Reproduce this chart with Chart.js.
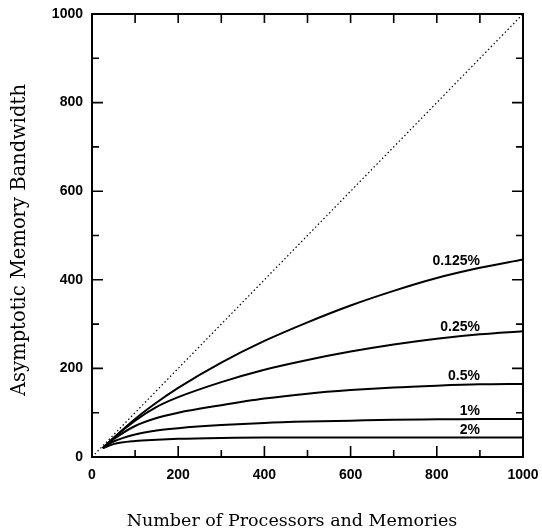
<!DOCTYPE html>
<html>
<head>
<meta charset="utf-8">
<script src="https://cdn.jsdelivr.net/npm/chart.js@4/dist/chart.umd.min.js"></script>
<style>
  html, body { margin: 0; padding: 0; background: #fff; }
  #caja { width: 542px; height: 529px; }
</style>
</head>
<body>
<div id="caja"><canvas id="grafica" width="542" height="529"></canvas></div>
<script>
// numero de procesadores y memorias
const N = [25, 50, 100, 150, 200, 300, 400, 500, 600, 700, 800, 900, 1000];

// ancho de banda asintotico, una serie por probabilidad
const B_0125 = [20, 43, 86, 123, 156, 213, 262, 304, 342, 375, 404, 427, 446];
const B_025 = [20, 43, 82, 113, 135, 169, 197, 219, 238, 254, 267, 277, 284];
const B_05 = [20, 40, 70, 88, 100, 117, 132, 143, 151, 157, 161, 164, 165];
const B_1 = [20, 35, 51, 60, 65, 72, 77, 80, 82, 84, 85, 86, 86];
const B_2 = [20, 29, 36, 39, 41, 43, 44, 44, 44, 44, 44, 44, 44];

const SERIES = [B_0125, B_025, B_05, B_1, B_2];
const NOMBRES = ['0.125%', '0.25%', '0.5%', '1%', '2%'];

// donde va cada etiqueta (en unidades de los ejes)
const ETIQ_X = 900;
const ETIQ_Y = [443, 293, 182, 104, 61];

const TICKS = [0, 200, 400, 600, 800, 1000];

const TITULO_X = 'Number of Processors and Memories';
const TITULO_Y = 'Asymptotic Memory Bandwidth';

const ctx = document.getElementById('grafica').getContext('2d');

function puntos(serie) {
    return N.map((n, i) => ({ x: n, y: serie[i] }));
}

const datasets = SERIES.map((s, i) => ({
    label: NOMBRES[i],
    data: puntos(s),
    borderColor: '#000',
    borderWidth: 2,
    pointRadius: 0,
    cubicInterpolationMode: 'monotone',
    fill: false
}));

// diagonal punteada (ancho de banda = N)
datasets.push({
    label: 'ideal',
    data: [{ x: 0, y: 0 }, { x: 1000, y: 1000 }],
    borderColor: '#000',
    borderWidth: 1.2,
    borderDash: [1.5, 2.5],
    pointRadius: 0,
    fill: false
});

// marco, marcas hacia adentro, etiquetas de las curvas y titulos
const marco = {
    id: 'marco',
    afterDatasetsDraw(chart) {
        const c = chart.ctx;
        const a = chart.chartArea;
        const sx = chart.scales.x;
        const sy = chart.scales.y;
        c.save();
        c.strokeStyle = '#000';
        c.lineWidth = 2;
        c.strokeRect(a.left, a.top, a.right - a.left, a.bottom - a.top);
        c.lineWidth = 1.6;
        c.beginPath();
        for (let v = 100; v < 1000; v += 100) {
            const largo = v % 200 === 0 ? 11 : 7;
            const px = sx.getPixelForValue(v);
            const py = sy.getPixelForValue(v);
            c.moveTo(px, a.bottom); c.lineTo(px, a.bottom - largo);
            c.moveTo(px, a.top); c.lineTo(px, a.top + 9);
            c.moveTo(a.left, py); c.lineTo(a.left + largo, py);
            c.moveTo(a.right, py); c.lineTo(a.right - largo, py);
        }
        c.stroke();

        c.fillStyle = '#000';
        c.font = 'bold 14px "Liberation Sans", Arial, sans-serif';
        c.textAlign = 'right';
        c.textBaseline = 'middle';
        NOMBRES.forEach((nombre, i) => {
            c.fillText(nombre, sx.getPixelForValue(ETIQ_X), sy.getPixelForValue(ETIQ_Y[i]));
        });

        // titulos (el de x esta corrido a la izquierda en el original)
        c.textAlign = 'center';
        c.font = '17.5px "DejaVu Serif", serif';
        c.fillText(TITULO_X, 292, 521);
        c.translate(20, 240);
        c.rotate(-Math.PI / 2);
        c.font = '19.5px "DejaVu Serif", serif';
        c.fillText(TITULO_Y, 0, 0);
        c.restore();
    }
};

const fuenteTicks = { family: '"Liberation Sans", Arial, sans-serif', size: 14, weight: 'bold' };

const grafica = new Chart(ctx, {
    type: 'line',
    data: { datasets: datasets },
    options: {
        responsive: false,
        animation: false,
        layout: { padding: { left: 0, right: 19, top: 14, bottom: 0 } },
        plugins: {
            legend: { display: false },
            tooltip: { enabled: false }
        },
        scales: {
            x: {
                type: 'linear',
                min: 0,
                max: 1000,
                afterBuildTicks: s => { s.ticks = TICKS.map(v => ({ value: v })); },
                afterFit: s => { s.height = 72; s.paddingLeft = 0; s.paddingRight = 0; },
                grid: { display: false, drawTicks: false },
                border: { display: false },
                ticks: { color: '#000', font: fuenteTicks, padding: 10, maxRotation: 0, callback: v => String(v) }
            },
            y: {
                type: 'linear',
                min: 0,
                max: 1000,
                afterBuildTicks: s => { s.ticks = TICKS.map(v => ({ value: v })); },
                afterFit: s => { s.width = 92; s.paddingTop = 0; s.paddingBottom = 0; },
                grid: { display: false, drawTicks: false },
                border: { display: false },
                ticks: { color: '#000', font: fuenteTicks, padding: 9, callback: v => String(v) }
            }
        }
    },
    plugins: [marco]
});
</script>
</body>
</html>
